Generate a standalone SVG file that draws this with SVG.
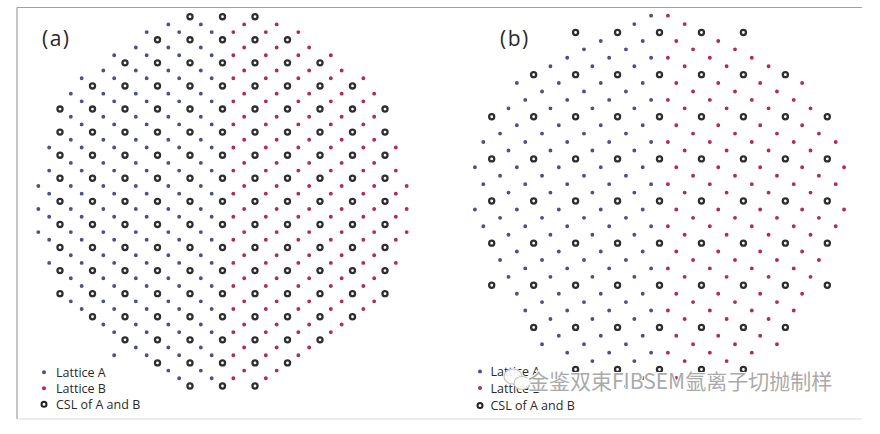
<svg xmlns="http://www.w3.org/2000/svg" width="880" height="434" viewBox="0 0 880 434">
<style>
.frame{fill:none;stroke:#a0a0a0;stroke-width:1.2}
.frame2{fill:none;stroke:#dcdcdc;stroke-width:1.2}
.d{fill:none;stroke-linecap:round;stroke-width:3.9}
.A{stroke:#4b4f8d}
.B{stroke:#b22b55}
.pa{stroke-dasharray:0 32.5}
.pb{stroke-dasharray:0 41.95}
.ro{stroke:#2e2e2e;stroke-width:7.4}
.ri{stroke:#fff;stroke-width:2.8}
.lbl{font-family:"Open Sans","Noto Sans",sans-serif;fill:#2a2a2a}
.leg{font-size:12.5px}
.pan{font-size:21px;letter-spacing:1.5px}
.lgA{fill:#4b4f8d}
.lgB{fill:#b22b55}
.lgC{fill:#fff;stroke:#222;stroke-width:2}
.wm{font-family:"Noto Sans CJK SC","Noto Sans",sans-serif;font-size:21px;fill:#aaaaaa;stroke:#fff;stroke-width:2.2;paint-order:stroke;stroke-linejoin:round}
.logo{fill:#fff;fill-opacity:0.9;stroke:#c4c4c4;stroke-width:1.2}
</style>
<rect width="880" height="434" fill="#fff"/>
<g id="frame">
<path class="frame" d="M17 7.5H862M17 7.5V419"/>
<path class="frame2" d="M17 419H862"/>
</g>
<g id="panel-a">
<path class="d A pa" d="M168.33 24.4H201.83M146.67 32.1H212.67M135.83 47.48H201.83M114.17 55.18H212.67M103.33 70.56H201.83M81.67 78.26H212.67M70.83 93.64H201.83M81.67 101.34H212.67M70.83 116.72H201.83M81.67 124.42H212.67M70.83 139.8H201.83M49.17 147.5H212.67M70.83 162.88H201.83M49.17 170.58H212.67M38.33 185.96H201.83M49.17 193.66H212.67M38.33 209.04H201.83M49.17 216.74H212.67M38.33 232.12H201.83M49.17 239.82H212.67M70.83 255.2H201.83M49.17 262.9H212.67M70.83 278.28H201.83M81.67 285.98H212.67M70.83 301.36H201.83M81.67 309.06H212.67M103.33 324.44H201.83M114.17 332.14H212.67M135.83 347.52H201.83M114.17 355.22H212.67M168.33 370.6H201.83M179.17 378.3H212.67"/>
<path class="d B pa" d="M244.17 24.4H277.67M233.33 32.1H299.33M244.17 47.48H310.17M233.33 55.18H331.83M244.17 70.56H342.67M233.33 78.26H364.33M244.17 93.64H375.17M233.33 101.34H364.33M244.17 116.72H375.17M233.33 124.42H364.33M244.17 139.8H375.17M233.33 147.5H396.83M244.17 162.88H375.17M233.33 170.58H396.83M244.17 185.96H407.67M233.33 193.66H396.83M244.17 209.04H407.67M233.33 216.74H396.83M244.17 232.12H407.67M233.33 239.82H396.83M244.17 255.2H375.17M233.33 262.9H396.83M244.17 278.28H375.17M233.33 285.98H364.33M244.17 301.36H375.17M233.33 309.06H364.33M244.17 324.44H342.67M233.33 332.14H331.83M244.17 347.52H310.17M233.33 355.22H299.33M244.17 370.6H277.67M233.33 378.3H266.83"/>
<path id="csl-a" class="d ro pa" d="M190 16.71H256M157.5 39.79H288.5M125 62.87H321M92.5 85.95H353.5M60 109.03H386M60 132.11H386M60 155.19H386M60 178.27H386M60 201.35H386M60 224.43H386M60 247.51H386M60 270.59H386M60 293.67H386M92.5 316.75H353.5M125 339.83H321M157.5 362.91H288.5M190 385.99H256"/>
<path class="d ri pa" d="M190 16.71H256M157.5 39.79H288.5M125 62.87H321M92.5 85.95H353.5M60 109.03H386M60 132.11H386M60 155.19H386M60 178.27H386M60 201.35H386M60 224.43H386M60 247.51H386M60 270.59H386M60 293.67H386M92.5 316.75H353.5M125 339.83H321M157.5 362.91H288.5M190 385.99H256"/>
<text class="lbl pan" x="42" y="45.5">(a)</text>
<g id="legend-a">
<circle class="lgA" cx="44" cy="372.3" r="2"/>
<circle class="lgB" cx="44" cy="388.3" r="2"/>
<circle class="lgC" cx="44" cy="404.3" r="2.5"/>
<text class="lbl leg" x="56" y="376.5">Lattice A</text>
<text class="lbl leg" x="56" y="392.5">Lattice B</text>
<text class="lbl leg" x="56" y="408.5">CSL of A and B</text>
</g>
</g>
<g id="panel-b">
<path class="d A pb" d="M651.11 15.65H652.11M634.33 24.08H635.33M600.77 40.93H643.72M583.99 49.35H626.94M567.21 57.78H652.11M550.43 66.2H635.33M516.87 83.05H643.72M542.04 91.48H626.94M525.26 99.9H652.11M508.48 108.33H635.33M516.87 125.18H643.72M500.09 133.6H626.94M483.31 142.03H652.11M508.48 150.45H635.33M474.92 167.3H643.72M500.09 175.73H626.94M483.31 184.15H652.11M508.48 192.58H635.33M474.92 209.43H643.72M500.09 217.85H626.94M483.31 226.28H652.11M508.48 234.7H635.33M516.87 251.55H643.72M500.09 259.98H626.94M525.26 268.4H652.11M508.48 276.83H635.33M516.87 293.68H643.72M542.04 302.1H626.94M525.26 310.53H652.11M550.43 318.95H635.33M558.82 335.8H643.72M542.04 344.23H626.94M567.21 352.65H652.11M592.38 361.08H635.33M600.77 377.93H643.72M625.94 386.35H626.94"/>
<path class="d B pb" d="M667.89 15.65H668.89M684.67 24.08H685.67M676.28 40.93H719.23M693.06 49.35H736.01M667.89 57.78H752.79M684.67 66.2H769.57M676.28 83.05H803.13M693.06 91.48H777.96M667.89 99.9H794.74M684.67 108.33H811.52M676.28 125.18H803.13M693.06 133.6H819.91M667.89 142.03H836.69M684.67 150.45H811.52M676.28 167.3H845.08M693.06 175.73H819.91M667.89 184.15H836.69M684.67 192.58H811.52M676.28 209.43H845.08M693.06 217.85H819.91M667.89 226.28H836.69M684.67 234.7H811.52M676.28 251.55H803.13M693.06 259.98H819.91M667.89 268.4H794.74M684.67 276.83H811.52M676.28 293.68H803.13M693.06 302.1H777.96M667.89 310.53H794.74M684.67 318.95H769.57M676.28 335.8H761.18M693.06 344.23H777.96M667.89 352.65H752.79M684.67 361.08H727.62M676.28 377.93H719.23M693.06 386.35H694.06"/>
<path id="csl-b" class="d ro pb" d="M575.6 32.5H744.4M533.65 74.63H786.35M491.7 116.75H828.3M491.7 158.88H828.3M491.7 201H828.3M491.7 243.13H828.3M491.7 285.25H828.3M533.65 327.38H786.35M575.6 369.5H744.4"/>
<path class="d ri pb" d="M575.6 32.5H744.4M533.65 74.63H786.35M491.7 116.75H828.3M491.7 158.88H828.3M491.7 201H828.3M491.7 243.13H828.3M491.7 285.25H828.3M533.65 327.38H786.35M575.6 369.5H744.4"/>
<text class="lbl pan" x="500" y="45.5">(b)</text>
<g id="legend-b">
<circle class="lgA" cx="480" cy="371.5" r="2"/>
<circle class="lgB" cx="480" cy="388" r="2"/>
<circle class="lgC" cx="480" cy="405.5" r="2.5"/>
<text class="lbl leg" x="490.5" y="375.5">Lattice A</text>
<text class="lbl leg" x="490.5" y="392.5">Lattice B</text>
<text class="lbl leg" x="490.5" y="409.5">CSL of A and B</text>
</g>
</g>
<g id="watermark">
<ellipse class="logo" cx="513" cy="376.5" rx="9" ry="7.5"/>
<ellipse class="logo" cx="522" cy="383" rx="8" ry="6.5"/>
<text class="wm" x="528" y="389">金鉴双束FIBSEM氩离子切抛制样</text>
</g>
</svg>
